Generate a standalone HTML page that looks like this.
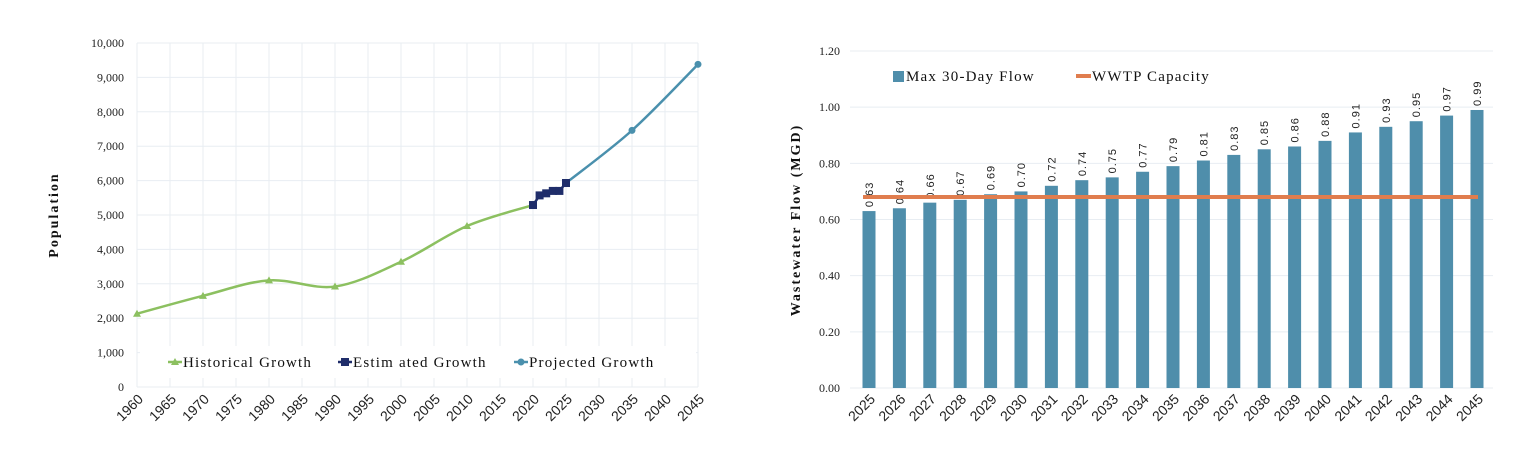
<!DOCTYPE html>
<html><head><meta charset="utf-8"><style>
body{margin:0;background:#fff;width:1523px;height:457px;overflow:hidden}
svg{display:block}
.tk{font-family:"Liberation Serif",serif;font-size:12px;fill:#222}
.xt{font-family:"Liberation Sans",sans-serif;font-size:14px;fill:#222}
.lg{font-family:"Liberation Serif",serif;font-size:15px;fill:#111;letter-spacing:1.2px}
.at{font-family:"Liberation Serif",serif;font-size:14px;font-weight:bold;fill:#111;letter-spacing:2px}
.vl{font-family:"Liberation Sans",sans-serif;font-size:11px;fill:#222;letter-spacing:1px}
</style></head><body>
<svg id="svg" width="1523" height="457"></svg>
<script>
const popYearsHist=[1960,1970,1980,1990,2000,2010,2020];
const popHist=[2130,2650,3100,2920,3640,4680,5290];
const popYearsEst=[2020,2021,2022,2023,2024,2025];
const popEst=[5290,5570,5630,5700,5700,5930];
const popYearsProj=[2025,2035,2045];
const popProj=[5930,7460,9380];
const popTicks=[0,1000,2000,3000,4000,5000,6000,7000,8000,9000,10000];
const popTickLabels=["0","1,000","2,000","3,000","4,000","5,000","6,000","7,000","8,000","9,000","10,000"];
const yearTicks=[1960,1965,1970,1975,1980,1985,1990,1995,2000,2005,2010,2015,2020,2025,2030,2035,2040,2045];
const flowYears=[2025,2026,2027,2028,2029,2030,2031,2032,2033,2034,2035,2036,2037,2038,2039,2040,2041,2042,2043,2044,2045];
const flowValues=[0.63,0.64,0.66,0.67,0.69,0.70,0.72,0.74,0.75,0.77,0.79,0.81,0.83,0.85,0.86,0.88,0.91,0.93,0.95,0.97,0.99];
const capacity=[0.68];
const flowTicks=[0,0.2,0.4,0.6,0.8,1.0,1.2];
const flowTickLabels=["0.00","0.20","0.40","0.60","0.80","1.00","1.20"];

const NS="http://www.w3.org/2000/svg";
const svg=document.getElementById('svg');
function mk(tag,attrs,parent,text){const e=document.createElementNS(NS,tag);for(const k in attrs)e.setAttribute(k,attrs[k]);if(text!==undefined)e.textContent=text;(parent||svg).appendChild(e);return e;}

// ---- Left chart
const lx=v=>137+(v-1960)*(698-137)/85;
const ly=v=>387-v*(387-43)/10000;
const g1=mk('g',{});


popTicks.forEach((t,i)=>{
  const gl=mk('line',{x1:137,x2:698,y1:ly(t),y2:ly(t),stroke:'#e8edf2','stroke-width':1},g1);
  
  const tl=mk('text',{x:124,y:ly(t)+4,'text-anchor':'end',class:'tk'},g1,popTickLabels[i]);
  
});
yearTicks.forEach(y=>{
  const gl=mk('line',{x1:lx(y),x2:lx(y),y1:43,y2:387,stroke:'#e8edf2','stroke-width':1},g1);
  
  const tl=mk('text',{x:lx(y)+7,y:400,'text-anchor':'end',class:'xt',transform:`rotate(-45 ${lx(y)+7} 400)`},g1,String(y));
  
});
const yt=mk('text',{x:58,y:215,'text-anchor':'middle',class:'at',transform:'rotate(-90 58 215)'},g1,'Population');

function smooth(pts){let d=`M${pts[0][0]},${pts[0][1]}`;for(let i=0;i<pts.length-1;i++){const p0=pts[i-1]||pts[i],p1=pts[i],p2=pts[i+1],p3=pts[i+2]||p2;const t=6;d+=` C${p1[0]+(p2[0]-p0[0])/t},${p1[1]+(p2[1]-p0[1])/t} ${p2[0]-(p3[0]-p1[0])/t},${p2[1]-(p3[1]-p1[1])/t} ${p2[0]},${p2[1]}`;}return d;}
function series(xs,vs,color,marker,name){
  const pts=xs.map((x,i)=>[lx(x),ly(vs[i])]);
  const p=mk('path',{d:marker==='sq'?'M'+pts.map(p=>p.join(',')).join(' L'):smooth(pts),fill:'none',stroke:color,'stroke-width':2.5},g1);
  
  pts.forEach(([x,y])=>{let m;
    if(marker==='tri')m=mk('path',{d:`M${x},${y-4} L${x+4},${y+3} L${x-4},${y+3}Z`,fill:color},g1);
    else if(marker==='sq')m=mk('rect',{x:x-4,y:y-4,width:8,height:8,fill:color},g1);
    else m=mk('circle',{cx:x,cy:y,r:3.5,fill:color},g1);
    });
}
series(popYearsHist,popHist,'#8cc060','tri','historical-growth');
series(popYearsProj,popProj,'#4a90ad','circ','projected-growth');
series(popYearsEst,popEst,'#1f2d6a','sq','estimated-growth');
const lb=mk('rect',{x:140,y:346,width:556,height:32,fill:'#fff'},g1);

[[170,'#8cc060','Historical Growth','tri'],[340,'#1f2d6a','Estim ated Growth','sq'],[516,'#4a90ad','Projected Growth','circ']].forEach(([x,c,t,m])=>{
  const l=mk('line',{x1:x-2,x2:x+12,y1:362,y2:362,stroke:c,'stroke-width':2.5},g1);
  
  if(m==='tri')mk('path',{d:`M${x+5},358 L${x+9},365 L${x+1},365Z`,fill:c},g1);
  else if(m==='sq')mk('rect',{x:x+1,y:358,width:8,height:8,fill:c},g1);
  else mk('circle',{cx:x+5,cy:362,r:3.5,fill:c},g1);
  const tx=mk('text',{x:x+13,y:367,class:'lg'},g1,t);
  
});

// ---- Right chart
const rx=i=>869+i*(1477-869)/20;
const ry=v=>388-v*(388-51)/1.2;
const g2=mk('g',{});


flowTicks.forEach((t,i)=>{
  const gl=mk('line',{x1:850,x2:1493,y1:ry(t),y2:ry(t),stroke:'#e8edf2','stroke-width':1},g2);
  
  const tl=mk('text',{x:840,y:ry(t)+4,'text-anchor':'end',class:'tk'},g2,flowTickLabels[i]);
  
});
const yt2=mk('text',{x:800,y:220,'text-anchor':'middle',class:'at',transform:'rotate(-90 800 220)'},g2,'Wastewater Flow (MGD)');

flowYears.forEach((y,i)=>{
  const x=rx(i),v=flowValues[i];
  const b=mk('rect',{x:x-6.5,y:ry(v),width:13,height:ry(0)-ry(v),fill:'#4f8eab'},g2);
  
  const vl=mk('text',{x:x+4,y:ry(v)-4,class:'vl',transform:`rotate(-90 ${x+4} ${ry(v)-4})`},g2,v.toFixed(2));
  
  const tl=mk('text',{x:x+7,y:400,'text-anchor':'end',class:'xt',transform:`rotate(-45 ${x+7} 400)`},g2,String(y));
  
});
const cl=mk('line',{x1:rx(0)-6,x2:rx(20)+1,y1:ry(capacity[0]),y2:ry(capacity[0]),stroke:'#e07d4e','stroke-width':4},g2);

const s1=mk('rect',{x:893,y:71,width:11,height:11,fill:'#4f8eab'},g2);

const t1=mk('text',{x:906,y:81,class:'lg'},g2,'Max 30-Day Flow');

const s2=mk('line',{x1:1076,x2:1091,y1:76,y2:76,stroke:'#e07d4e','stroke-width':4},g2);

const t2=mk('text',{x:1092,y:81,class:'lg'},g2,'WWTP Capacity');

</script>
</body></html>
